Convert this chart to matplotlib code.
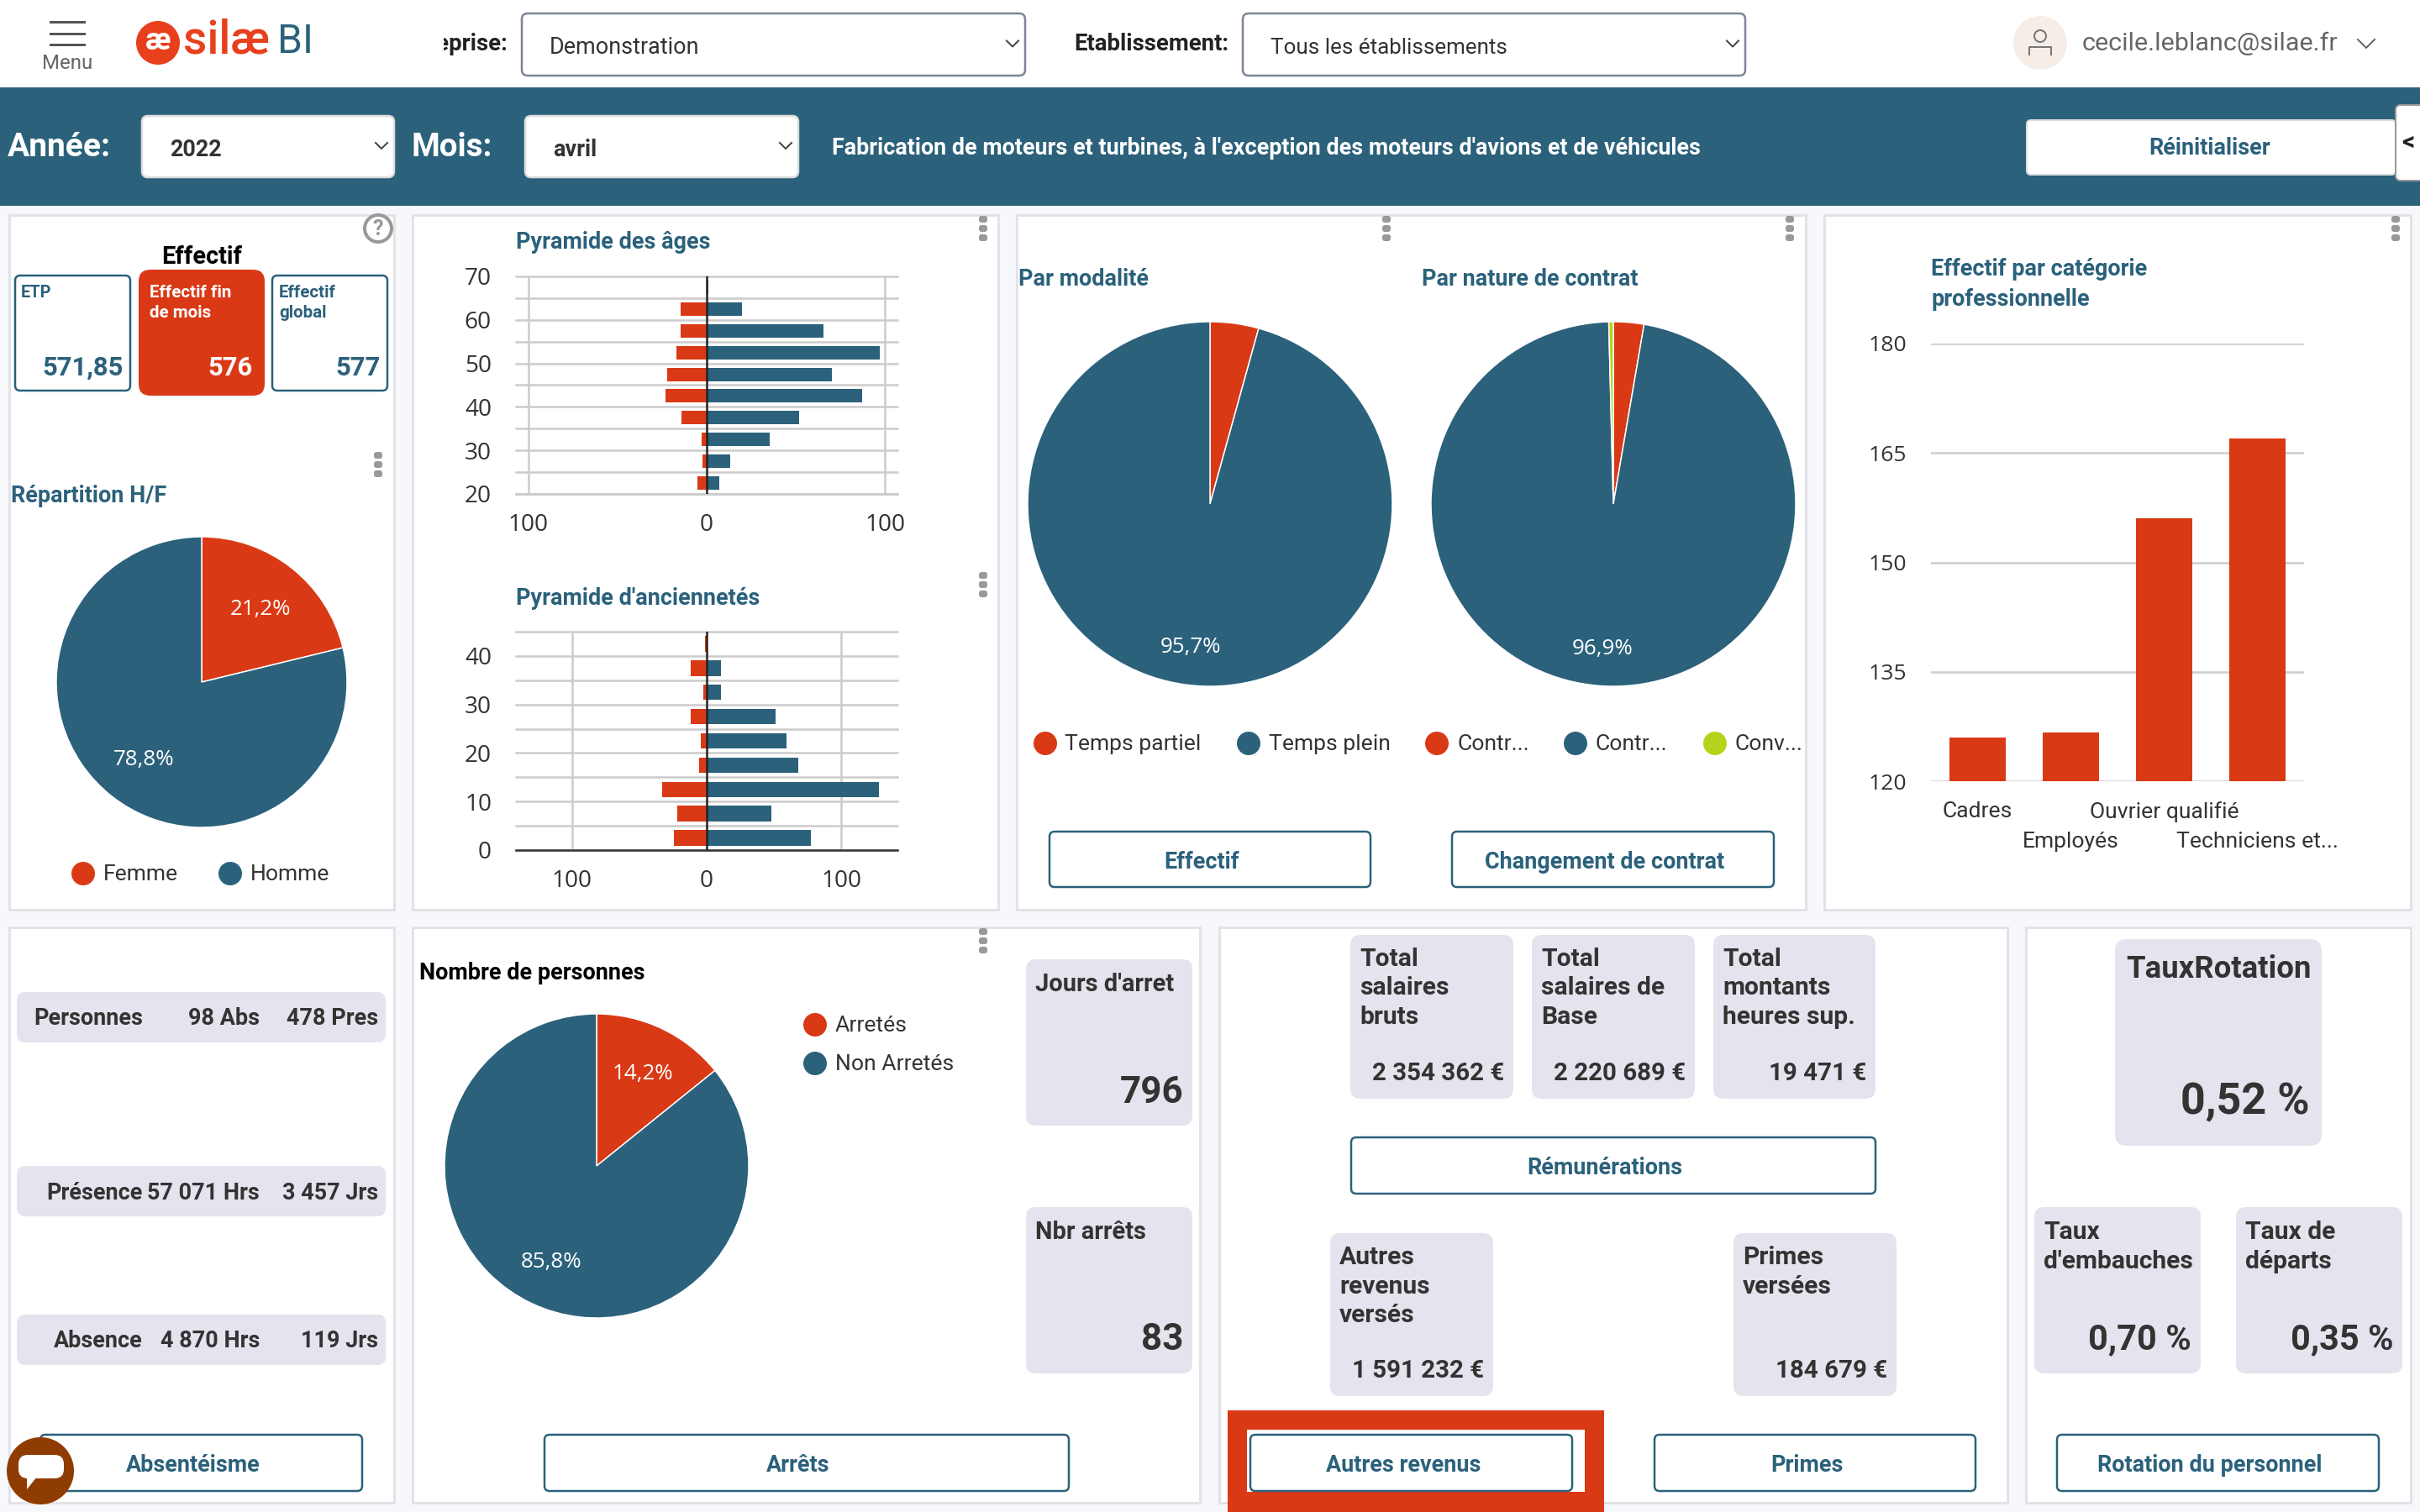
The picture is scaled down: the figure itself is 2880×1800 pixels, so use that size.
import matplotlib
matplotlib.use('Agg')
import matplotlib.pyplot as plt
from matplotlib.patches import Circle, FancyBboxPatch, Rectangle, Polygon
from matplotlib.ticker import FuncFormatter

W, H = 2880, 1800
DPI = 200
TEAL = '#2b617b'
RED = '#da3915'
YELLOW = '#b4d41c'
CARD = '#e4e4ee'
BORDER = '#e1e3e8'
BG = '#f7f8fc'
GRID = '#cccccc'
INK = '#333333'
TEXTFONT = ['Roboto', 'DejaVu Sans']

plt.rcParams['font.family'] = ['Open Sans', 'DejaVu Sans']

# pyramide des ages, tranches de 5 ans a partir de 20
ageStarts = [20, 25, 30, 35, 40, 45, 50, 55, 60, 65]
ageHommes = [7, 13, 35.5, 52, 87, 70, 97, 65.5, 20, 1]
ageFemmes = [5, 2.4, 3, 14, 23, 22, 17, 14.5, 14.5, 0]
ageTicks = [20, 30, 40, 50, 60, 70]

# pyramide d'anciennetes
ancStarts = [0, 5, 10, 15, 20, 25, 30, 35, 40]
ancHommes = [77, 48, 128, 68, 59, 51, 10.5, 10.5, 0]
ancFemmes = [24.4, 22, 33, 5.5, 4.3, 12, 2.5, 12, 1]
ancTicks = [0, 10, 20, 30, 40]

# effectif par categorie
catNames = ['Cadres', 'Employés', 'Ouvrier qualifié', 'Techniciens et...']
catValues = [126, 126.7, 156, 167]
catTicks = [120, 135, 150, 165, 180]

# camemberts
sexeValues = [21.2, 78.8]
modaliteValues = [4.3, 95.7]
contratValues = [2.7, 96.9, 0.4]
arretValues = [14.2, 85.8]


def pt(px):
    return px * 72.0 / DPI


fig = plt.figure(figsize=(W / DPI, H / DPI), dpi=DPI, facecolor=BG)
pix = fig.add_axes([0, 0, 1, 1], zorder=0)
pix.set_xlim(0, W)
pix.set_ylim(H, 0)
pix.axis('off')


def box(x0, y0, x1, y1, face='white', edge='none', lw=0, r=0, z=1):
    if r > 0:
        p = FancyBboxPatch((x0 + r, y0 + r), x1 - x0 - 2 * r, y1 - y0 - 2 * r,
                           boxstyle='round,pad=%s,rounding_size=%s' % (r, r),
                           facecolor=face, edgecolor=edge, linewidth=pt(lw), zorder=z)
    else:
        p = Rectangle((x0, y0), x1 - x0, y1 - y0, facecolor=face, edgecolor=edge, linewidth=pt(lw), zorder=z)
    pix.add_patch(p)
    return p


def txt(x, y, s, size=26.5, color=INK, bold=False, ha='left', weight=None, **kw):
    w = weight if weight else ('bold' if bold else 'normal')
    return pix.text(x, y + 3, s, fontsize=pt(size), color=color, fontweight=w, ha=ha, va='center',
                    family=TEXTFONT, zorder=5, **kw)


def panel(x0, y0, x1, y1):
    box(x0, y0, x1, y1, 'white', BORDER, 3)


def button(x0, y0, x1, y1, label, tx):
    box(x0, y0, x1, y1, 'white', TEAL, 2.5, 6, z=3)
    txt(tx, (y0 + y1) / 2, label, 27, TEAL, True, ha='center')


def kebab(x, y):
    for dy in (-11, 0, 11):
        box(x - 5, y + dy - 4, x + 5, y + dy + 4, '#999999', r=3, z=4)


def chevron(x, y, s=7, color='#444444'):
    pix.plot([x - s, x, x + s], [y - s / 2, y + s / 2, y - s / 2], color=color, lw=pt(2), zorder=5)


def dropdown(x0, y0, x1, y1, label, bold=False, edge='#7c8598', size=26.5):
    box(x0, y0, x1, y1, 'white', edge, 2.5, 7, z=3)
    txt(x0 + 33, (y0 + y1) / 2 + 1, label, size, INK, bold)
    chevron(x1 - 15, (y0 + y1) / 2 - 1)


def dot(x, y, color, r=14):
    pix.add_patch(Circle((x, y), r, facecolor=color, edgecolor='none', zorder=4))


def kpi(x0, y0, x1, y1, lines, value, ty, vy, vsize=29.5, tsize=30, lineh=34.5, r=12):
    box(x0, y0, x1, y1, CARD, r=r, z=2)
    for i, line in enumerate(lines):
        txt(x0 + 11, ty + i * lineh, line, tsize, INK, True)
    txt(x1 - 11, vy, value, vsize, INK, True, ha='right')


def pieChart(cx, cy, r, values, colors, labels):
    ax = fig.add_axes([(cx - r) / W, 1 - (cy + r) / H, 2 * r / W, 2 * r / H], zorder=2)
    ax.pie(values, colors=colors, startangle=90, counterclock=False, radius=1,
           wedgeprops={'edgecolor': 'white', 'linewidth': pt(1.5)})
    ax.set_xlim(-1, 1)
    ax.set_ylim(-1, 1)
    for s, px, py in labels:
        ax.text((px - cx) / r, (cy - py - 2) / r, s, fontsize=pt(26), color='white', ha='center', va='center')
    return ax


def pyramid(x0, y0, x1, y1, starts, men, women, step, ticks, xmax, height, top, baseColor):
    ax = fig.add_axes([x0 / W, 1 - y1 / H, (x1 - x0) / W, (y1 - y0) / H], zorder=2)
    ax.patch.set_alpha(0)
    ys = [s + step / 2 for s in starts]
    ax.barh(ys, men, height=height, color=TEAL, zorder=3)
    ax.barh(ys, [-v for v in women], height=height, color=RED, zorder=3)
    ax.set_xlim(-xmax, xmax)
    ax.set_ylim(starts[0], top)
    for s in ax.spines.values():
        s.set_visible(False)
    for yy in range(starts[0], top + step, step):
        ax.axhline(yy, color=GRID, lw=pt(2.5), zorder=1, clip_on=False)
    ax.axhline(starts[0], color=baseColor, lw=pt(2.5), zorder=2, clip_on=False)
    for xx in (-100, 100):
        ax.axvline(xx, color=GRID, lw=pt(2.5), zorder=1)
    ax.axvline(0, color='#222222', lw=pt(2.5), zorder=4)
    ax.set_xticks([-100, 0, 100])
    ax.xaxis.set_major_formatter(FuncFormatter(lambda v, p: '%d' % abs(v)))
    ax.set_yticks(ticks)
    ax.tick_params(length=0, labelsize=pt(28), labelcolor=INK)
    ax.tick_params(axis='y', pad=pt(29))
    ax.tick_params(axis='x', pad=pt(23))
    return ax


# barre du haut
box(0, 0, W, 104, 'white')
box(0, 104, W, 245, TEAL)
for yy in (26, 40, 53):
    pix.plot([60, 100], [yy, yy], color='#555555', lw=pt(3), zorder=5)
txt(80, 73, 'Menu', 24, '#666666', ha='center')
dot(188, 51, '#e8401c', 26)
txt(188, 46, 'æ', 36, 'white', True, ha='center')
txt(218, 45, 'silæ', 55, '#e8401c', weight='medium')
txt(330, 47, 'BI', 48, TEAL)

hidden = txt(604, 50, 'Entreprise:', 27.5, '#222222', True, ha='right')
hidden.set_clip_path(Rectangle((528, 0), 90, 104, transform=pix.transData))
hidden.set_clip_on(True)
dropdown(621, 16, 1220, 90, 'Demonstration', size=27)
txt(1462, 50, 'Etablissement:', 27.5, '#222222', True, ha='right')
dropdown(1479, 16, 2077, 90, 'Tous les établissements', size=26)
dot(2428, 51, '#f5ede6', 32)
pix.add_patch(Circle((2428, 43), 7, facecolor='none', edgecolor='#777777', linewidth=pt(2), zorder=5))
pix.plot([2415, 2415, 2441, 2441], [65, 56, 56, 65], color='#777777', lw=pt(2), zorder=5)
txt(2478, 49, 'cecile.leblanc@silae.fr', 30.5, '#666666')
chevron(2816, 52, 10, '#666666')

# bandeau
txt(9, 173, 'Année:', 39, 'white', True)
dropdown(169, 138, 469, 211, '2022', True, '#dddddd', 27)
txt(490, 173, 'Mois:', 38.5, 'white', True)
dropdown(625, 138, 950, 211, 'avril', True, '#dddddd', 27)
txt(990, 173, "Fabrication de moteurs et turbines, à l'exception des moteurs d'avions et de véhicules", 26.9, 'white', True)
box(2412, 143, 2851, 208, 'white', '#dddddd', 2, 5, z=3)
txt(2630, 173, 'Réinitialiser', 27, TEAL, True, ha='center')
box(2851, 125, 2890, 215, 'white', '#999999', 2, 6, z=4)
txt(2866, 167, '<', 30, '#222222', True, ha='center')

# panneaux
panel(11, 256, 469, 1083)
panel(491, 256, 1188, 1083)
panel(1210, 256, 2149, 1083)
panel(2171, 256, 2869, 1083)
panel(11, 1104, 469, 1789)
panel(491, 1104, 1428, 1789)
panel(1451, 1104, 2389, 1789)
panel(2411, 1104, 2869, 1789)

# effectif
txt(240, 303, 'Effectif', 29, '#000000', True, ha='center')
box(18, 328, 155, 465, 'white', TEAL, 2.5, 6, z=2)
box(165, 321, 315, 471, RED, r=14, z=2)
box(324, 328, 461, 465, 'white', TEAL, 2.5, 6, z=2)
txt(25, 345, 'ETP', 20, TEAL, True)
txt(178, 345, 'Effectif fin', 20.5, 'white', True)
txt(178, 370, 'de mois', 20.5, 'white', True)
txt(332, 345, 'Effectif', 20.5, TEAL, True)
txt(332, 370, 'global', 20.5, TEAL, True)
txt(147, 435, '571,85', 31, TEAL, True, ha='right')
txt(301, 435, '576', 31, 'white', True, ha='right')
txt(453, 435, '577', 31, TEAL, True, ha='right')
pix.add_patch(Circle((450, 272), 16, facecolor='white', edgecolor='#999999', linewidth=pt(4), zorder=4))
txt(450, 270, '?', 25, '#999999', True, ha='center')
for kx, ky in [(450, 553), (1170, 272), (1170, 696), (1650, 272), (2130, 272), (2851, 272), (1170, 1120)]:
    kebab(kx, ky)

txt(13, 588, 'Répartition H/F', 27, TEAL, True)
pieChart(240, 812, 173, sexeValues, [RED, TEAL], [('21,2%', 310, 723), ('78,8%', 171, 902)])
dot(99, 1040, RED)
txt(123, 1038, 'Femme')
dot(274, 1040, TEAL)
txt(298, 1038, 'Homme')

# pyramides
txt(614, 285, 'Pyramide des âges', 27, TEAL, True)
pyramid(614, 329, 1068, 588, ageStarts, ageHommes, ageFemmes, 5, ageTicks, 107, 3.1, 70, GRID)
txt(614, 709, "Pyramide d'anciennetés", 27, TEAL, True)
pyramid(614, 752, 1068, 1012, ancStarts, ancHommes, ancFemmes, 5, ancTicks, 141.5, 3.2, 45, '#333333')

# modalite et contrat
txt(1212, 330, 'Par modalité', 27, TEAL, True)
txt(1692, 330, 'Par nature de contrat', 27, TEAL, True)
pieChart(1440, 600, 217, modaliteValues, [RED, TEAL], [('95,7%', 1417, 768)])
pieChart(1920, 600, 217, contratValues, [RED, TEAL, YELLOW], [('96,9%', 1907, 771)])
legendItems = [(1244, 1267, RED, 'Temps partiel'), (1486, 1510, TEAL, 'Temps plein'),
               (1710, 1734, RED, 'Contr...'), (1875, 1899, TEAL, 'Contr...'), (2041, 2065, YELLOW, 'Conv...')]
for dx, tx, col, lab in legendItems:
    dot(dx, 885, col)
    txt(tx, 883, lab)
button(1249, 990, 1631, 1056, 'Effectif', 1430)
button(1728, 990, 2111, 1056, 'Changement de contrat', 1910)

# categories
txt(2298, 318, 'Effectif par catégorie', 27, TEAL, True)
txt(2298, 354, 'professionnelle', 27, TEAL, True)
axCat = fig.add_axes([2298 / W, 1 - 930 / H, 444 / W, 521 / H], zorder=2)
axCat.patch.set_alpha(0)
axCat.bar(range(len(catValues)), catValues, width=0.61, color=RED, zorder=3)
axCat.set_xlim(-0.5, 3.5)
axCat.set_ylim(120, 180)
axCat.set_yticks(catTicks)
# les libelles alternent sur deux rangs
axCat.set_xticks([0, 2], [catNames[0], catNames[2]], family=TEXTFONT)
axCat.set_xticks([1, 3], [catNames[1], catNames[3]], minor=True, family=TEXTFONT)
axCat.grid(axis='y', color=GRID, lw=pt(2.5), zorder=1)
axCat.tick_params(which='both', length=0, labelsize=pt(26.5), labelcolor=INK)
axCat.tick_params(axis='y', pad=pt(29))
axCat.tick_params(axis='x', which='major', pad=pt(24))
axCat.tick_params(axis='x', which='minor', pad=pt(60))
for s in axCat.spines.values():
    s.set_visible(False)

# absenteisme
absRows = [(1181, 1241, 'Personnes', '98 Abs', '478 Pres'),
           (1388, 1448, 'Présence', '57 071 Hrs', '3 457 Jrs'),
           (1565, 1625, 'Absence', '4 870 Hrs', '119 Jrs')]
for y0, y1, a, b, c in absRows:
    box(20, y0, 459, y1, CARD, r=10, z=2)
    ym = (y0 + y1) / 2 - 1
    txt(170, ym, a, 27, INK, True, ha='right')
    txt(309, ym, b, 27, INK, True, ha='right')
    txt(450, ym, c, 27, INK, True, ha='right')
button(48, 1708, 431, 1775, 'Absentéisme', 230)
dot(48, 1751, '#8f3c02', 40)
box(22, 1732, 76, 1760, 'white', r=11, z=6)
pix.add_patch(Polygon([(32, 1758), (44, 1758), (32, 1773)], facecolor='white', edgecolor='none', zorder=6))

# arrets
txt(499, 1155, 'Nombre de personnes', 27, '#000000', True)
pieChart(710, 1388, 181, arretValues, [RED, TEAL], [('14,2%', 765, 1276), ('85,8%', 656, 1501)])
dot(970, 1220, RED)
txt(994, 1218, 'Arretés')
dot(970, 1266, TEAL)
txt(994, 1264, 'Non Arretés')
kpi(1221, 1142, 1419, 1340, ["Jours d'arret"], '796', 1169, 1298, 44, 29)
kpi(1221, 1437, 1419, 1635, ['Nbr arrêts'], '83', 1464, 1592, 44, 29)
button(648, 1708, 1272, 1775, 'Arrêts', 950)

# remunerations
kpi(1607, 1113, 1801, 1308, ['Total', 'salaires', 'bruts'], '2 354 362 €', 1139, 1275)
kpi(1823, 1113, 2017, 1308, ['Total', 'salaires de', 'Base'], '2 220 689 €', 1139, 1275)
kpi(2039, 1113, 2232, 1308, ['Total', 'montants', 'heures sup.'], '19 471 €', 1139, 1275)
button(1608, 1354, 2232, 1421, 'Rémunérations', 1910)
kpi(1583, 1468, 1777, 1662, ['Autres', 'revenus', 'versés'], '1 591 232 €', 1494, 1629)
kpi(2063, 1468, 2257, 1662, ['Primes', 'versées'], '184 679 €', 1494, 1629)
box(1461, 1679, 1909, 1800, RED, z=2)
box(1484, 1702, 1886, 1776, 'white', z=2)
button(1488, 1708, 1871, 1775, 'Autres revenus', 1670)
button(1969, 1708, 2351, 1775, 'Primes', 2150)

# rotation
box(2517, 1118, 2763, 1364, CARD, r=14, z=2)
txt(2640, 1151, 'TauxRotation', 36.5, INK, True, ha='center')
txt(2749, 1309, '0,52 %', 52, INK, True, ha='right')
kpi(2421, 1437, 2619, 1635, ['Taux', "d'embauches"], '0,70 %', 1464, 1592, 41.5)
kpi(2661, 1437, 2859, 1635, ['Taux de', 'départs'], '0,35 %', 1464, 1592, 41.5)
button(2448, 1708, 2831, 1775, 'Rotation du personnel', 2630)

fig.savefig('out.png', dpi=DPI, facecolor=BG)
